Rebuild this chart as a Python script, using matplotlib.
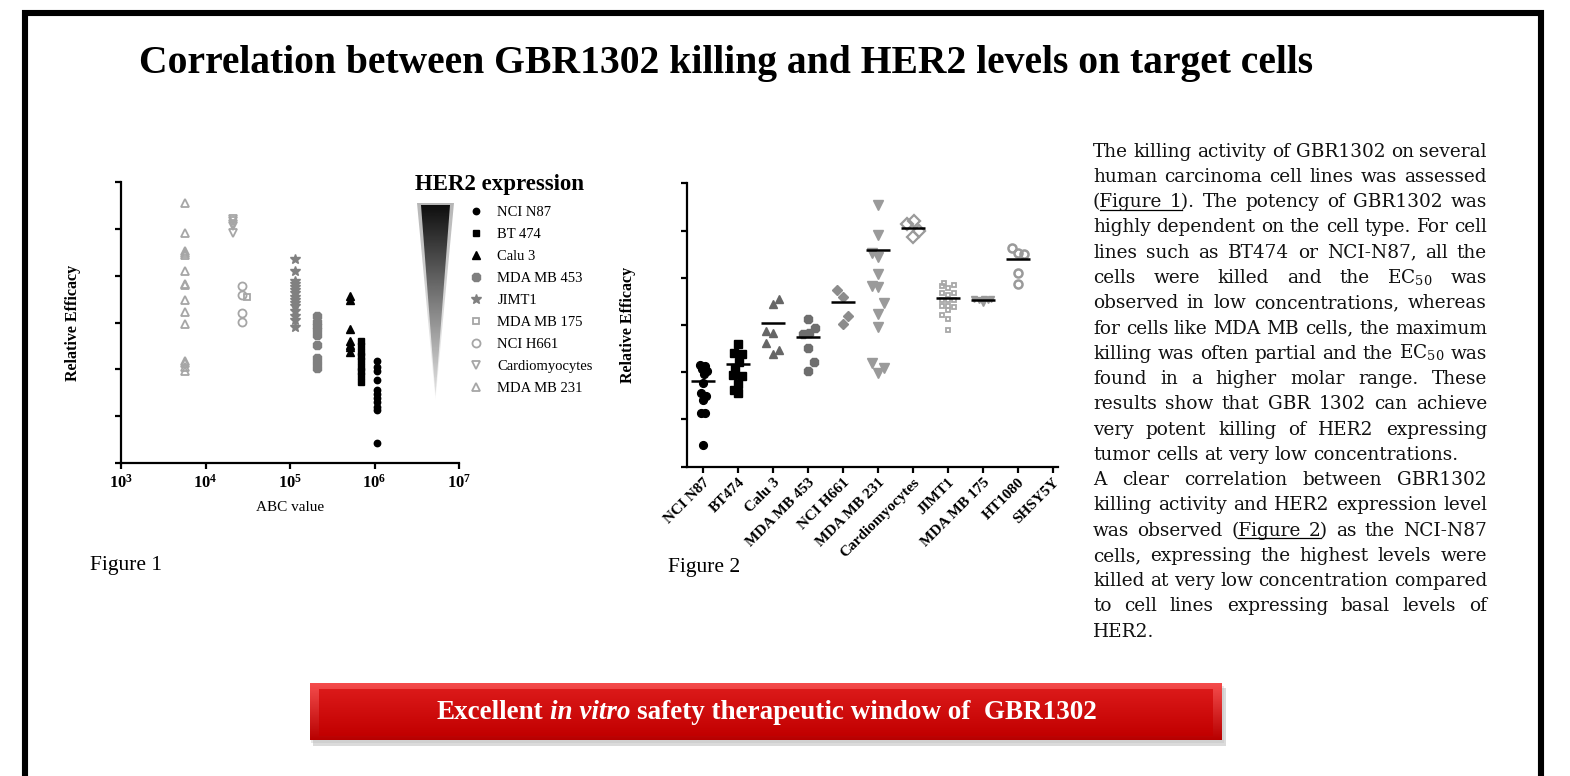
import numpy as np
import matplotlib
matplotlib.use("Agg")
import matplotlib.pyplot as plt
from matplotlib.patches import Polygon, Rectangle
from matplotlib.ticker import NullLocator

plt.rcParams['font.family'] = 'Liberation Serif'
plt.rcParams['mathtext.fontset'] = 'custom'
plt.rcParams['mathtext.rm'] = 'DejaVu Serif'
plt.rcParams['mathtext.bf'] = 'Liberation Serif:bold'
plt.rcParams['mathtext.it'] = 'Liberation Serif:italic'

# ---------------- data: Figure 1 (ABC value vs relative efficacy)
f1_lines = ["NCI N87", "BT 474", "Calu 3", "MDA MB 453", "JIMT1",
            "MDA MB 175", "NCI H661", "Cardiomyocytes", "MDA MB 231"]
f1_abc = [1.07e6, 6.9e5, 5.1e5, 2.08e5, 1.16e5, 3.1e4, 2.7e4, 2.1e4, 5.7e3]
f1_eff = [
    [2.17, 2.06, 1.96, 1.78, 1.57, 1.48, 1.39, 1.30, 1.21, 1.14, 0.44],
    [2.60, 2.49, 2.38, 2.28, 2.17, 2.06, 1.96, 1.85, 1.74],
    [3.56, 3.47, 2.86, 2.60, 2.53, 2.48, 2.38],
    [3.13, 3.02, 2.92, 2.83, 2.74, 2.53, 2.24, 2.14, 2.03],
    [4.36, 4.09, 3.88, 3.81, 3.76, 3.69, 3.62, 3.54, 3.49, 3.42, 3.35, 3.24, 3.13, 3.05, 2.90],
    [3.54],
    [3.77, 3.59, 3.20, 3.02],
    [5.21, 5.16, 5.10, 5.05, 4.90],
    [5.55, 4.90, 4.53, 4.48, 4.43, 4.09, 3.82, 3.79, 3.47, 3.22, 2.97, 2.19, 2.14, 2.06, 1.96],
]
f1_xticks = [1e3, 1e4, 1e5, 1e6, 1e7]
f1_xticklabels = [r'$\mathbf{10^{3}}$', r'$\mathbf{10^{4}}$', r'$\mathbf{10^{5}}$',
                  r'$\mathbf{10^{6}}$', r'$\mathbf{10^{7}}$']

# ---------------- data: Figure 2 (relative efficacy per cell line)
f2_cats = ["NCI N87", "BT474", "Calu 3", "MDA MB 453", "NCI H661", "MDA MB 231",
           "Cardiomyocytes", "JIMT1", "MDA MB 175", "HT1080", "SHSY5Y"]
f2_vals = [
    [2.15, 2.13, 2.06, 2.02, 1.97, 1.78, 1.55, 1.49, 1.42, 1.13, 1.13, 0.45],
    [2.60, 2.41, 2.38, 2.22, 2.08, 1.94, 1.91, 1.76, 1.62, 1.55],
    [3.55, 3.44, 2.87, 2.84, 2.61, 2.48, 2.38],
    [3.12, 2.94, 2.84, 2.80, 2.51, 2.22, 2.03],
    [3.75, 3.60, 3.18, 3.02],
    [5.54, 4.90, 4.52, 4.43, 4.09, 3.82, 3.81, 3.46, 3.23, 2.96, 2.19, 2.08, 1.98],
    [5.14, 5.21, 5.00, 4.87],
    [3.88, 3.82, 3.84, 3.78, 3.68, 3.67, 3.63, 3.53, 3.53, 3.52, 3.40, 3.40, 3.39, 3.32, 3.21, 3.12, 2.89],
    [3.56, 3.53, 3.55, 3.53, 3.56, 3.47],
    [4.62, 4.52, 4.50, 4.11, 3.87],
    [],
]
f2_jitter = [
    [-0.08, 0.06, -0.02, 0.12, 0.02, 0.0, -0.06, 0.08, 0.0, -0.06, 0.04, 0.0],
    [0.0, -0.13, 0.10, 0.02, -0.10, -0.14, 0.10, 0.0, -0.13, 0.0],
    [0.16, 0.0, -0.20, 0.0, -0.20, 0.16, 0.0],
    [0.0, 0.19, 0.04, -0.15, 0.0, 0.16, 0.0],
    [-0.17, 0.0, 0.15, 0.0],
    [0.0, 0.0, -0.16, 0.0, 0.0, -0.16, 0.0, 0.16, 0.0, 0.0, -0.16, 0.16, 0.0],
    [-0.16, 0.02, 0.17, 0.0],
    [-0.10, -0.17, 0.17, 0.0, -0.17, 0.17, 0.0, -0.17, 0.0, 0.17, -0.17, 0.0, 0.17, 0.0, -0.17, 0.0, 0.0],
    [-0.24, -0.10, 0.02, 0.14, 0.24, 0.0],
    [-0.16, 0.0, 0.19, 0.0, 0.0],
    [],
]
f2_mean = [1.81, 2.17, 3.05, 2.75, 3.48, 4.59, 5.05, 3.58, 3.53, 4.40, None]

title = "Correlation between GBR1302 killing and HER2 levels on target cells"
para = [
    "The killing activity of GBR1302 on several",
    "human carcinoma cell lines was assessed",
    "([Figure 1]). The potency of GBR1302 was",
    "highly dependent on the cell type. For cell",
    "lines such as BT474 or NCI-N87, all the",
    "cells were killed and the EC$_{50}$ was",
    "observed in low concentrations, whereas",
    "for cells like MDA MB cells, the maximum",
    "killing was often partial and the EC$_{50}$ was",
    "found in a higher molar range. These",
    "results show that GBR 1302 can achieve",
    "very potent killing of HER2 expressing",
    "tumor cells at very low concentrations.",
    "A clear correlation between GBR1302",
    "killing activity and HER2 expression level",
    "was observed ([Figure 2]) as the NCI-N87",
    "cells, expressing the highest levels were",
    "killed at very low concentration compared",
    "to cell lines expressing basal levels of",
    "HER2.",
]
para_ragged = {12, 19}

# ---------------- styles
f1_style = [
    dict(marker='o', ms=4.6, mfc='k', mec='k'),
    dict(marker='s', ms=4.6, mfc='k', mec='k'),
    dict(marker='^', ms=5.5, mfc='k', mec='k'),
    dict(marker='8', ms=6.2, mfc='#7f7f7f', mec='#7f7f7f'),
    dict(marker='*', ms=7.0, mfc='#808080', mec='#808080'),
    dict(marker='s', ms=4.5, mfc='none', mec='#a6a6a6', mew=1.3),
    dict(marker='o', ms=5.8, mfc='none', mec='#a6a6a6', mew=1.3),
    dict(marker='v', ms=6.0, mfc='none', mec='#a6a6a6', mew=1.3),
    dict(marker='^', ms=6.2, mfc='none', mec='#a6a6a6', mew=1.3),
]
f2_style = [
    dict(marker='o', ms=5.6, mfc='k', mec='k'),
    dict(marker='s', ms=5.2, mfc='k', mec='k'),
    dict(marker='^', ms=6.2, mfc='#666666', mec='#666666'),
    dict(marker='8', ms=6.6, mfc='#6e6e6e', mec='#6e6e6e'),
    dict(marker='D', ms=5.2, mfc='#8c8c8c', mec='#8c8c8c'),
    dict(marker='v', ms=6.6, mfc='#9a9a9a', mec='#9a9a9a'),
    dict(marker='D', ms=6.2, mfc='none', mec='#9a9a9a', mew=1.6),
    dict(marker='s', ms=3.4, mfc='none', mec='#a8a8a8', mew=1.3),
    dict(marker='v', ms=4.2, mfc='#9a9a9a', mec='#9a9a9a'),
    dict(marker='o', ms=5.8, mfc='none', mec='#9a9a9a', mew=1.8),
    dict(marker='o', ms=5.0, mfc='k', mec='k'),
]

W, H = 1570, 776
fig = plt.figure(figsize=(W / 100, H / 100), dpi=100)
ov = fig.add_axes([0, 0, 1, 1])
ov.set_xlim(0, W)
ov.set_ylim(H, 0)
ov.axis('off')
renderer = fig.canvas.get_renderer()


def px_axes(l, t, r, b):
    return fig.add_axes([l / W, 1 - b / H, (r - l) / W, (b - t) / H])


def style_axes(ax):
    for s in ['top', 'right']:
        ax.spines[s].set_visible(False)
    for s in ['left', 'bottom']:
        ax.spines[s].set_linewidth(1.6)
    ax.tick_params(width=1.6, length=4.5, direction='out', colors='k')
    ax.patch.set_alpha(0)


def tw(s, **kw):
    t = ov.text(0, 0, s, **kw)
    w = t.get_window_extent(renderer).width
    t.remove()
    return w


# frame
ov.plot([25, 25, 1541, 1541], [H + 10, 13, 13, H + 10], color='k', lw=4.4,
        solid_joinstyle='miter', clip_on=False)

# title
ov.text(726, 73, title, fontsize=28.5, fontweight='bold', ha='center', va='baseline')

# ---------------- Figure 1
ax1 = px_axes(121, 181.7, 459, 463.3)
for name, x, ys, st in zip(f1_lines, f1_abc, f1_eff, f1_style):
    ax1.plot([x] * len(ys), ys, ls='none', label=name, clip_on=False, **st)
ax1.set_xscale('log')
ax1.set_xlim(1e3, 1e7)
ax1.set_ylim(0, 6)
ax1.set_xticks(f1_xticks)
ax1.set_xticklabels(f1_xticklabels, fontsize=12)
ax1.xaxis.set_minor_locator(NullLocator())
ax1.set_yticks(range(7))
ax1.set_yticklabels([])
style_axes(ax1)
ax1.tick_params(axis='x', pad=3)
ax1.set_xlabel("ABC value", fontsize=11)
ax1.xaxis.set_label_coords(0.5, -0.135)
ax1.set_ylabel("Relative Efficacy", fontsize=11.5, fontweight='bold')
ax1.yaxis.set_label_coords(-0.118, 0.5)
leg = ax1.legend(loc='upper left', bbox_to_anchor=((469 - 121) / 338, (463.3 - 206) / 281.6),
                 frameon=False, fontsize=10.5, handlelength=0.9, handletextpad=1.05,
                 labelspacing=0.6, borderpad=0, borderaxespad=0)
leg.set_in_layout(False)

ov.text(415, 190, "HER2 expression", fontsize=16.5, fontweight='bold', ha='left', va='baseline')

# gradient wedge
grad = np.linspace(0.05, 0.92, 256)[:, None] * np.ones((1, 2))
for wpts, al in [([[417, 203], [454, 203], [435.5, 400]], 0.3),
                 ([[421, 205], [450, 205], [435.5, 396]], 1.0)]:
    im = ov.imshow(grad, cmap='gray', vmin=0, vmax=1, extent=[415, 456, 400, 203],
                   aspect='auto', interpolation='bilinear', alpha=al)
    wedge = Polygon(wpts, closed=True, fc='none', ec='none')
    ov.add_patch(wedge)
    im.set_clip_path(wedge)

ov.text(90, 570, "Figure 1", fontsize=15.5, ha='left', va='baseline')

# ---------------- Figure 2
ax2 = px_axes(686.7, 183.3, 1058, 466.7)
for i, (ys, dx, st) in enumerate(zip(f2_vals, f2_jitter, f2_style)):
    if ys:
        ax2.plot(np.add(i, dx), ys, ls='none', clip_on=False, **st)
    if f2_mean[i] is not None:
        ax2.hlines(f2_mean[i], i - 0.35, i + 0.35, color='k', lw=1.8, zorder=3)
ax2.set_xlim(-0.47, 10.15)
ax2.set_ylim(0, 6)
ax2.set_yticks(range(7))
ax2.set_yticklabels([])
ax2.set_xticks(range(len(f2_cats)))
ax2.set_xticklabels(f2_cats, rotation=45, ha='right', va='top', rotation_mode='anchor',
                    fontsize=11, fontweight='bold')
style_axes(ax2)
ax2.tick_params(axis='x', pad=2)
ax2.set_ylabel("Relative Efficacy", fontsize=11.5, fontweight='bold')
ax2.yaxis.set_label_coords(-0.136, 0.5)

ov.text(668, 572, "Figure 2", fontsize=15.5, ha='left', va='baseline')

# ---------------- paragraph (justified)
P_L, P_R, P_B0, P_DY, P_FS, P_FAM = 1093, 1487, 156.7, 25.26, 13.3, 'DejaVu Serif'
sp = tw('a a', fontsize=P_FS, family=P_FAM) - tw('aa', fontsize=P_FS, family=P_FAM)
for i, line in enumerate(para):
    words = line.split(' ')
    clean = [w.replace('[', '').replace(']', '') for w in words]
    widths = [tw(c, fontsize=P_FS, family=P_FAM) for c in clean]
    y = P_B0 + i * P_DY
    if i in para_ragged or len(words) == 1:
        gap = sp
    else:
        gap = (P_R - P_L - sum(widths)) / (len(words) - 1)
    x = P_L
    ul_start = None
    for w, c, wd in zip(words, clean, widths):
        ov.text(x, y, c, fontsize=P_FS, family=P_FAM, ha='left', va='baseline', color='#111111')
        if '[' in w:
            k = w.index('[')
            ul_start = x + (tw(w[:k], fontsize=P_FS, family=P_FAM) if k else 0)
        if ']' in w:
            pre = w[:w.index(']')].replace('[', '')
            ul_end = x + tw(pre, fontsize=P_FS, family=P_FAM)
            ov.plot([ul_start, ul_end], [y + 2.5, y + 2.5], color='k', lw=0.9)
        x += wd + gap

# ---------------- red banner
ov.add_patch(Rectangle((313, 688), 913, 58, fc='#9a9a9a', ec='none', alpha=0.35, zorder=-2))
ov.add_patch(Rectangle((311, 686), 913, 57, fc='#bdbdbd', ec='none', alpha=0.35, zorder=-2))
red_out = np.zeros((64, 2, 3))
red_out[:, :, 0] = np.linspace(0.96, 0.72, 64)[:, None]
red_out[:, :, 1] = np.linspace(0.30, 0.0, 64)[:, None]
red_out[:, :, 2] = np.linspace(0.30, 0.0, 64)[:, None]
ov.imshow(red_out, extent=[310, 1222, 740, 683], aspect='auto', interpolation='bilinear')
red_in = np.zeros((64, 2, 3))
red_in[:, :, 0] = np.linspace(0.86, 0.76, 64)[:, None]
red_in[:, :, 1] = np.linspace(0.10, 0.0, 64)[:, None]
red_in[:, :, 2] = np.linspace(0.10, 0.0, 64)[:, None]
ov.imshow(red_in, extent=[319, 1213, 736, 689], aspect='auto', interpolation='bilinear')

runs = [("Excellent", {}), ("in vitro", {'fontstyle': 'italic'}),
        ("safety therapeutic window of  GBR1302", {})]
B_FS = 19.5
bsp = tw('a a', fontsize=B_FS, fontweight='bold') - tw('aa', fontsize=B_FS, fontweight='bold')
rw = [tw(t, fontsize=B_FS, fontweight='bold', **kw) for t, kw in runs]
bx = 767 - (sum(rw) + bsp * (len(runs) - 1)) / 2
for (t, kw), wd in zip(runs, rw):
    ov.text(bx, 719, t, fontsize=B_FS, fontweight='bold', color='white', ha='left',
            va='baseline', **kw)
    bx += wd + bsp

ov.set_xlim(0, W)
ov.set_ylim(H, 0)
fig.savefig('out.png', dpi=100)
